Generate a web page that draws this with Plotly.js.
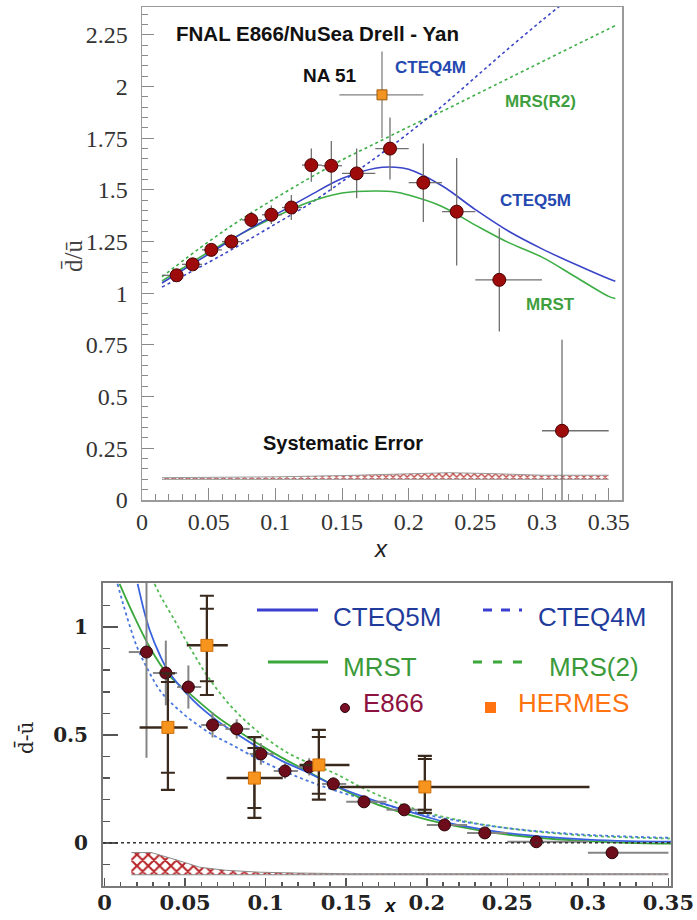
<!DOCTYPE html>
<html><head><meta charset="utf-8">
<script src="https://cdn.plot.ly/plotly-3.0.1.min.js"></script>
<style>html,body{margin:0;padding:0;background:#fff}</style>
</head><body><div id="chart" style="width:697px;height:920px"></div>
<script>
// ================= DATA =================
// E866 bins (shared by both panels)
const e866X      = [0.026,0.038,0.052,0.067,0.082,0.097,0.112,0.127,0.142,0.161,0.186,0.211,0.236,0.268,0.315];
const e866BinLo  = [0.015,0.030,0.045,0.060,0.075,0.090,0.105,0.120,0.135,0.150,0.175,0.200,0.225,0.250,0.300];
const e866BinHi  = [0.030,0.045,0.060,0.075,0.090,0.105,0.120,0.135,0.150,0.175,0.200,0.225,0.250,0.300,0.350];

// Top panel: dbar/ubar ratio
const e866Ratio    = [1.087,1.14,1.21,1.25,1.355,1.38,1.415,1.62,1.617,1.58,1.70,1.535,1.395,1.065,0.335];
const e866RatioErr = [0.025,0.025,0.03,0.035,0.04,0.045,0.06,0.08,0.12,0.12,0.15,0.19,0.26,0.25,0.44];
const na51X = [0.18], na51Ratio = [1.96], na51Err = [0.21], na51BinLo = [0.148], na51BinHi = [0.211];

const cteq5mRatioX = [0.015,0.03,0.05,0.075,0.1,0.125,0.15,0.175,0.19,0.2,0.225,0.25,0.275,0.3,0.325,0.35,0.355];
const cteq5mRatioY = [1.05,1.11,1.19,1.29,1.38,1.47,1.555,1.605,1.61,1.60,1.52,1.405,1.30,1.215,1.14,1.07,1.058];
const mrstRatioX   = [0.015,0.03,0.05,0.075,0.1,0.125,0.15,0.175,0.19,0.2,0.225,0.25,0.275,0.3,0.325,0.35,0.355];
const mrstRatioY   = [1.06,1.12,1.20,1.29,1.37,1.44,1.485,1.495,1.49,1.475,1.42,1.33,1.245,1.175,1.08,0.985,0.975];
const cteq4mRatioX = [0.015,0.05,0.075,0.1,0.125,0.15,0.175,0.2,0.225,0.25,0.275,0.3,0.325];
const cteq4mRatioY = [1.03,1.15,1.24,1.335,1.43,1.54,1.655,1.775,1.905,2.045,2.185,2.32,2.45];
const mrsR2RatioX  = [0.015,0.05,0.075,0.1,0.125,0.15,0.175,0.2,0.225,0.25,0.275,0.3,0.325,0.355];
const mrsR2RatioY  = [1.08,1.25,1.36,1.46,1.555,1.645,1.725,1.805,1.88,1.96,2.04,2.12,2.20,2.295];

const sysRatioX  = [0.015,0.05,0.1,0.15,0.2,0.23,0.26,0.3,0.35];
const sysRatioLo = [0.1,0.1,0.1,0.1,0.1,0.1,0.1,0.1,0.1];
const sysRatioHi = [0.108,0.109,0.112,0.118,0.125,0.132,0.128,0.12,0.12];

const topXTicks = [0,0.05,0.1,0.15,0.2,0.25,0.3,0.35];
const topXTickText = ['0','0.05','0.1','0.15','0.2','0.25','0.3','0.35'];
const topYTicks = [0,0.25,0.5,0.75,1,1.25,1.5,1.75,2,2.25];
const topYTickText = ['0','0.25','0.5','0.75','1','1.25','1.5','1.75','2','2.25'];

// Bottom panel: dbar - ubar
const e866Diff    = [0.884,0.787,0.722,0.546,0.528,0.412,0.333,0.352,0.273,0.19,0.153,0.083,0.046,0.005,-0.046];
const e866DiffErr = [0.49,0.15,0.10,0.058,0.045,0.05,0.035,0.04,0.03,0.022,0.02,0.018,0.015,0.012,0.015];

const hermesX      = [0.0393,0.0635,0.093,0.133,0.1988];
const hermesBinLo  = [0.0217,0.051,0.0757,0.121,0.146];
const hermesBinHi  = [0.0516,0.0765,0.1106,0.152,0.301];
const hermesDiff   = [0.535,0.915,0.30,0.361,0.259];
const hermesTotUp  = [0.25,0.23,0.19,0.162,0.144];
const hermesTotDn  = [0.29,0.23,0.184,0.161,0.12];
const hermesStatUp = [0.21,0.17,0.14,0.129,0.13];
const hermesStatDn = [0.21,0.166,0.138,0.134,0.106];

const cteq5mDiffX = [0.0205,0.025,0.028,0.034,0.04,0.055,0.07,0.084,0.098,0.11,0.125,0.14,0.16,0.18,0.2,0.212,0.225,0.25,0.27,0.3,0.325,0.352];
const cteq5mDiffY = [1.2,1.06,0.985,0.875,0.79,0.66,0.565,0.495,0.43,0.38,0.33,0.275,0.215,0.165,0.12,0.095,0.075,0.045,0.03,0.015,0.008,0.005];
const mrstDiffX   = [0.0093,0.0174,0.028,0.0385,0.053,0.07,0.084,0.098,0.11,0.125,0.14,0.16,0.18,0.2,0.225,0.25,0.275,0.3,0.325,0.352];
const mrstDiffY   = [1.2,1.065,0.907,0.787,0.69,0.583,0.512,0.447,0.395,0.335,0.275,0.205,0.15,0.108,0.068,0.038,0.02,0.008,0.0,-0.004];
const cteq4mDiffX = [0.008,0.011,0.015,0.02,0.026,0.035,0.0485,0.065,0.08,0.1,0.12,0.14,0.16,0.18,0.2,0.225,0.25,0.275,0.3,0.325,0.352];
const cteq4mDiffY = [1.2,1.12,1.02,0.91,0.815,0.70,0.60,0.51,0.45,0.37,0.305,0.25,0.205,0.165,0.13,0.095,0.068,0.05,0.037,0.029,0.023];
const mrsR2DiffX  = [0.031,0.035,0.042,0.053,0.065,0.08,0.096,0.113,0.13,0.142,0.16,0.18,0.2,0.225,0.25,0.275,0.3,0.325,0.352];
const mrsR2DiffY  = [1.2,1.14,1.05,0.905,0.76,0.62,0.51,0.42,0.36,0.325,0.255,0.19,0.14,0.098,0.068,0.047,0.033,0.025,0.02];

const sysDiffX  = [0.0166,0.029,0.045,0.059,0.075,0.096,0.12,0.152,0.2,0.3,0.35];
const sysDiffLo = [-0.148,-0.148,-0.148,-0.148,-0.148,-0.148,-0.148,-0.148,-0.148,-0.148,-0.148];
const sysDiffHi = [-0.045,-0.045,-0.08,-0.113,-0.127,-0.136,-0.14,-0.143,-0.143,-0.143,-0.143];

const botXTicks = [0,0.05,0.1,0.15,0.2,0.25,0.3,0.35];
const botXTickText = ['0','0.05','0.1','0.15','0.2','0.25','0.3','0.35'];
const botYTicks = [0,0.5,1];
const botYTickText = ['0','0.5','1'];

// ================= STYLE HELPERS =================
const sub = (a,b) => a.map((v,i)=>v-b[i]);
function xErr(x, lo, hi, color, thick, w){
  return {type:'data', symmetric:false, array: sub(hi,x), arrayminus: sub(x,lo), color:color, thickness:thick, width:w};
}
const BLUE = '#3a45c8', GREEN = '#3cae45';
const BLUE2 = '#3b62de', GREEN2 = '#3aa83a';

const traces = [];
// ---------- TOP ----------
traces.push({x:sysRatioX, y:sysRatioLo, mode:'lines', line:{color:'#9a9a9a', width:1}, xaxis:'x', yaxis:'y', hoverinfo:'skip'});
traces.push({x:sysRatioX, y:sysRatioHi, mode:'lines', fill:'tonexty', fillcolor:'rgba(255,255,255,0)',
  fillpattern:{shape:'x', size:5, solidity:0.45, fgcolor:'#b83a36', bgcolor:'rgba(255,255,255,0)'},
  line:{color:'#9a9a9a', width:1}, xaxis:'x', yaxis:'y', hoverinfo:'skip'});
traces.push({x:mrsR2RatioX, y:mrsR2RatioY, mode:'lines', line:{color:GREEN, width:1.6, dash:'3px,3px', shape:'spline'}, xaxis:'x', yaxis:'y'});
traces.push({x:cteq4mRatioX, y:cteq4mRatioY, mode:'lines', line:{color:BLUE, width:1.6, dash:'3px,3px', shape:'spline'}, xaxis:'x', yaxis:'y'});
traces.push({x:mrstRatioX, y:mrstRatioY, mode:'lines', line:{color:GREEN, width:1.6, shape:'spline'}, xaxis:'x', yaxis:'y'});
traces.push({x:cteq5mRatioX, y:cteq5mRatioY, mode:'lines', line:{color:BLUE, width:1.6, shape:'spline'}, xaxis:'x', yaxis:'y'});
traces.push({x:na51X, y:na51Ratio, mode:'markers', xaxis:'x', yaxis:'y',
  marker:{symbol:'square', size:10, color:'#f29423', line:{color:'#9a5a10', width:1}},
  error_y:{type:'data', array:na51Err, color:'#808080', thickness:1.3, width:0},
  error_x:xErr(na51X, na51BinLo, na51BinHi, '#808080', 1.3, 0)});
traces.push({x:e866X, y:e866Ratio, mode:'markers', xaxis:'x', yaxis:'y',
  marker:{symbol:'circle', size:13, color:'#9e0b0b', line:{color:'#4a0000', width:1}},
  error_y:{type:'data', array:e866RatioErr, color:'#707070', thickness:1.3, width:0},
  error_x:xErr(e866X, e866BinLo, e866BinHi, '#707070', 1.3, 0)});

// ---------- BOTTOM ----------
traces.push({x:sysDiffX, y:sysDiffLo, mode:'lines', line:{color:'#8a8a8a', width:1}, xaxis:'x2', yaxis:'y2', hoverinfo:'skip'});
traces.push({x:sysDiffX, y:sysDiffHi, mode:'lines', fill:'tonexty', fillcolor:'rgba(255,255,255,0)',
  fillpattern:{shape:'x', size:8, solidity:0.45, fgcolor:'#b82428', bgcolor:'rgba(255,255,255,0)'},
  line:{color:'#8a8a8a', width:1}, xaxis:'x2', yaxis:'y2', hoverinfo:'skip'});
traces.push({x:mrsR2DiffX, y:mrsR2DiffY, mode:'lines', line:{color:'#55bb55', width:1.8, dash:'3px,3px', shape:'spline'}, xaxis:'x2', yaxis:'y2'});
traces.push({x:cteq4mDiffX, y:cteq4mDiffY, mode:'lines', line:{color:'#4a78e0', width:1.8, dash:'3px,3px', shape:'spline'}, xaxis:'x2', yaxis:'y2'});
traces.push({x:mrstDiffX, y:mrstDiffY, mode:'lines', line:{color:GREEN2, width:1.8, shape:'spline'}, xaxis:'x2', yaxis:'y2'});
traces.push({x:cteq5mDiffX, y:cteq5mDiffY, mode:'lines', line:{color:BLUE2, width:1.8, shape:'spline'}, xaxis:'x2', yaxis:'y2'});
traces.push({x:e866X, y:e866Diff, mode:'markers', xaxis:'x2', yaxis:'y2',
  marker:{symbol:'circle', size:12, color:'#6d0d1b', line:{color:'#2d0508', width:1}},
  error_y:{type:'data', array:e866DiffErr, color:'#858585', thickness:2, width:0},
  error_x:xErr(e866X, e866BinLo, e866BinHi, '#858585', 2, 0)});
traces.push({x:hermesX, y:hermesDiff, mode:'markers', xaxis:'x2', yaxis:'y2',
  marker:{symbol:'square', size:12, color:'rgba(0,0,0,0)'},
  error_y:{type:'data', symmetric:false, array:hermesStatUp, arrayminus:hermesStatDn, color:'#3a2a1e', thickness:2, width:7}});
traces.push({x:hermesX, y:hermesDiff, mode:'markers', xaxis:'x2', yaxis:'y2',
  marker:{symbol:'square', size:12, color:'#f7941d', line:{color:'#d0700a', width:1}},
  error_y:{type:'data', symmetric:false, array:hermesTotUp, arrayminus:hermesTotDn, color:'#3a2a1e', thickness:2.2, width:7},
  error_x:xErr(hermesX, hermesBinLo, hermesBinHi, '#3a2a1e', 2.5, 0)});

// ================= LAYOUT =================
const W = 697, H = 920;
const px = v => v / W, py = v => 1 - v / H;
const serif = 'Liberation Serif, Times New Roman, serif';
const sans = 'Liberation Sans, Arial, sans-serif';
const bserif = 'DejaVu Serif, serif';

const topAxisCommon = {showgrid:false, zeroline:false, showline:true, mirror:true, linecolor:'#9a9a9a', linewidth:1.5,
  ticks:'inside', ticklen:12, tickcolor:'#8a8a8a', tickwidth:1, tickmode:'array',
  tickfont:{family:serif, size:24, color:'#333'}};
const botAxisCommon = {showgrid:false, zeroline:false, showline:true, mirror:true, linecolor:'#7a7a7a', linewidth:2,
  ticks:'inside', tickcolor:'#555', tickwidth:1.5, tickmode:'array'};

// annotation helper: always centre-anchored
const ann = (o) => Object.assign({showarrow:false, xanchor:'center', yanchor:'middle'}, o);

const layout = {
  width:W, height:H, margin:{l:0,r:0,t:0,b:0}, paper_bgcolor:'#fff', plot_bgcolor:'#fff', showlegend:false,
  xaxis: Object.assign({}, topAxisCommon, {domain:[px(142), px(622)], anchor:'y', range:[0,0.36],
    tickvals:topXTicks, ticktext:topXTickText, ticklabelstandoff:0,
    minor:{dtick:0.01, tick0:0, ticks:'inside', ticklen:6, tickcolor:'#8a8a8a'}}),
  yaxis: Object.assign({}, topAxisCommon, {domain:[py(500), py(7)], anchor:'x', range:[0,2.385],
    tickvals:topYTicks, ticktext:topYTickText, ticklabelstandoff:8,
    minor:{dtick:0.05, tick0:0, ticks:'inside', ticklen:6, tickcolor:'#8a8a8a'}}),
  xaxis2: Object.assign({}, botAxisCommon, {domain:[px(103), px(671)], anchor:'y2', range:[-0.001,0.3516],
    tickvals:botXTicks, ticktext:botXTickText, ticklen:8, ticklabelstandoff:-3,
    tickfont:{family:bserif, size:21, color:'#222', weight:'bold'},
    minor:{dtick:0.01, tick0:0, ticks:'inside', ticklen:4, tickcolor:'#555'}}),
  yaxis2: Object.assign({}, botAxisCommon, {domain:[py(886), py(583)], anchor:'x2', range:[-0.2,1.204],
    tickvals:botYTicks, ticktext:botYTickText, ticklen:15, ticklabelstandoff:9,
    tickfont:{family:bserif, size:20, color:'#222', weight:'bold'},
    minor:{dtick:0.1, tick0:0, ticks:'inside', ticklen:7, tickcolor:'#555'}}),
  shapes: [
    {type:'line', xref:'x2 domain', yref:'y2', x0:0, x1:1, y0:0, y1:0, line:{color:'#333', width:1.5, dash:'dot'}},
    // legend line samples (bottom panel)
    {type:'line', xref:'paper', yref:'paper', x0:px(257), x1:px(318), y0:py(610), y1:py(610), line:{color:'#3b3fd0', width:3}},
    {type:'line', xref:'paper', yref:'paper', x0:px(483), x1:px(522), y0:py(610), y1:py(610), line:{color:'#3b3fd0', width:3, dash:'9px,9px'}},
    {type:'line', xref:'paper', yref:'paper', x0:px(268), x1:px(328), y0:py(662), y1:py(662), line:{color:'#3aa83a', width:3}},
    {type:'line', xref:'paper', yref:'paper', x0:px(473), x1:px(533), y0:py(662), y1:py(662), line:{color:'#3aa83a', width:3, dash:'9px,11px'}},
    {type:'circle', xref:'paper', yref:'paper', x0:px(340.5), x1:px(349.5), y0:py(712.5), y1:py(703.5), fillcolor:'#7a0e26', line:{color:'#2a0508', width:1}},
    {type:'rect', xref:'paper', yref:'paper', x0:px(485), x1:px(496), y0:py(713), y1:py(702), fillcolor:'#ff7410', line:{width:0}}
  ],
  annotations: [
    // top panel labels
    ann({xref:'x', yref:'y', x:0.1313, y:2.257, text:'FNAL E866/NuSea Drell - Yan', font:{family:sans, size:20.5, weight:'bold', color:'#111'}}),
    ann({xref:'x', yref:'y', x:0.141, y:2.053, text:'NA 51', font:{family:sans, size:19, weight:'bold', color:'#111'}}),
    ann({xref:'x', yref:'y', x:0.216, y:2.092, text:'CTEQ4M', font:{family:sans, size:17, weight:'bold', color:'#2448b0'}}),
    ann({xref:'x', yref:'y', x:0.299, y:1.927, text:'MRS(R2)', font:{family:sans, size:17, weight:'bold', color:'#3f9f3f'}}),
    ann({xref:'x', yref:'y', x:0.2948, y:1.451, text:'CTEQ5M', font:{family:sans, size:17, weight:'bold', color:'#2448b0'}}),
    ann({xref:'x', yref:'y', x:0.306, y:0.947, text:'MRST', font:{family:sans, size:17, weight:'bold', color:'#3f9f3f'}}),
    ann({xref:'x', yref:'y', x:0.1508, y:0.277, text:'Systematic Error', font:{family:sans, size:20, weight:'bold', color:'#111'}}),
    // axis titles
    ann({xref:'paper', yref:'paper', x:px(74), y:py(256), text:'d\u0304/\u016b', textangle:-90, font:{family:serif, size:25, color:'#444'}}),
    ann({xref:'paper', yref:'paper', x:px(381), y:py(548), text:'x', font:{family:sans, size:24, style:'italic', color:'#222'}}),
    ann({xref:'paper', yref:'paper', x:px(25), y:py(738), text:'d\u0304-\u016b', textangle:-90, font:{family:bserif, size:20, color:'#222'}}),
    ann({xref:'paper', yref:'paper', x:px(390), y:py(905), text:'x', font:{family:sans, size:19, style:'italic', weight:'bold', color:'#111'}}),
    // bottom legend texts
    ann({xref:'paper', yref:'paper', x:px(331), y:py(617), xanchor:'left', text:'CTEQ5M', font:{family:sans, size:26, color:'#1f3c9c'}}),
    ann({xref:'paper', yref:'paper', x:px(536), y:py(617), xanchor:'left', text:'CTEQ4M', font:{family:sans, size:26, color:'#1f3c9c'}}),
    ann({xref:'paper', yref:'paper', x:px(341), y:py(667), xanchor:'left', text:'MRST', font:{family:sans, size:26, color:'#3a9a3a'}}),
    ann({xref:'paper', yref:'paper', x:px(547), y:py(667), xanchor:'left', text:'MRS(2)', font:{family:sans, size:26, color:'#3a9a3a'}}),
    ann({xref:'paper', yref:'paper', x:px(361), y:py(703), xanchor:'left', text:'E866', font:{family:sans, size:26, color:'#8e1240'}}),
    ann({xref:'paper', yref:'paper', x:px(516), y:py(703), xanchor:'left', text:'HERMES', font:{family:sans, size:26, color:'#ff7410'}})
  ]
};

Plotly.newPlot('chart', traces, layout, {staticPlot:true, displayModeBar:false});
</script>
</body></html>
